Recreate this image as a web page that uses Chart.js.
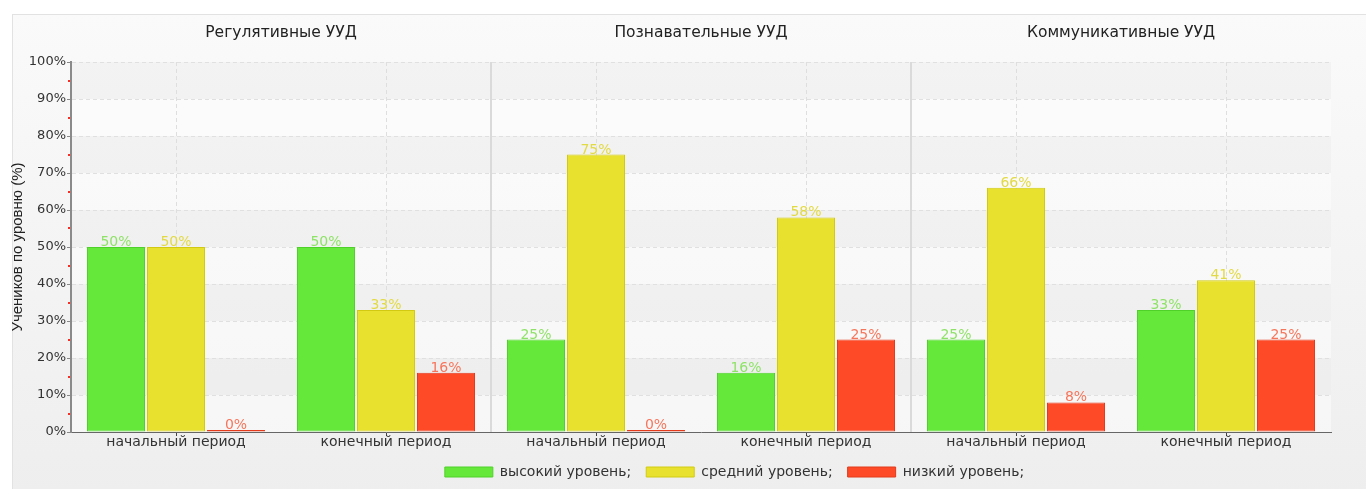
<!DOCTYPE html>
<html>
<head>
<meta charset="utf-8">
<script src="https://cdn.jsdelivr.net/npm/chart.js@4/dist/chart.umd.min.js"></script>
<style>
  html, body { margin: 0; padding: 0; background: #ffffff; width: 1366px; height: 489px; overflow: hidden; }
  #frame {
    position: absolute; left: 12px; top: 14px; width: 1360px; height: 480px;
    border-top: 1px solid #e2e2e2; border-left: 1px solid #e2e2e2;
    background: linear-gradient(#fafafa, #eeeeee);
  }
  #wrap { position: absolute; left: 0; top: 0; width: 1366px; height: 489px; }
</style>
</head>
<body>
<div id="frame"></div>
<div id="wrap"><canvas id="chart" width="1366" height="489"></canvas></div>
<script>
// Panels (top axis) and periods (bottom axis)
const groups = ['Регулятивные УУД', 'Познавательные УУД', 'Коммуникативные УУД'];
const categories = [
  'начальный период', 'конечный период',
  'начальный период', 'конечный период',
  'начальный период', 'конечный период'
];

// Share of pupils per level, %
const highLevel = [50, 50, 25, 16, 25, 33];
const midLevel  = [50, 33, 75, 58, 66, 41];
const lowLevel  = [0, 16, 0, 25, 8, 25];

const seriesNames = ['высокий уровень;', 'средний уровень;', 'низкий уровень;'];
const yTitle = 'Учеников по уровню (%)';

const FONT = '"DejaVu Sans", sans-serif';

const fills   = ['#66e83b', '#e8e22e', '#ff4a28'];
const borders = ['#4fd12a', '#d2ca12', '#e23a1b'];
const labelColors = ['#8fe268', '#e2da45', '#f6765c'];

// Alternating horizontal bands behind the grid
const bandPlugin = {
  id: 'bands',
  beforeDraw(chart) {
    const { ctx, chartArea: a, scales: { y } } = chart;
    ctx.save();
    ctx.fillStyle = 'rgba(255,255,255,0.45)';
    ctx.fillRect(a.left, a.top, a.right - a.left, a.bottom - a.top);
    ctx.fillStyle = 'rgba(0,0,0,0.035)';
    for (let v = 10; v < 100; v += 20) {
      const top = y.getPixelForValue(v + 10), bot = y.getPixelForValue(v);
      ctx.fillRect(a.left, top, a.right - a.left, bot - top);
    }
    ctx.restore();
  }
};

// Small red minor ticks on the value axis
const minorTicks = {
  id: 'minorTicks',
  afterDraw(chart) {
    const { ctx, scales: { y } } = chart;
    ctx.save();
    ctx.fillStyle = '#ff2a22';
    for (let v = 5; v < 100; v += 10) {
      const py = Math.round(y.getPixelForValue(v));
      ctx.fillRect(y.right - 3, py - 1, 2, 2);
    }
    ctx.restore();
  }
};

// Value labels above bars
const valueLabels = {
  id: 'valueLabels',
  afterDatasetsDraw(chart) {
    const { ctx } = chart;
    ctx.save();
    ctx.font = '14px ' + FONT;
    ctx.textAlign = 'center';
    ctx.textBaseline = 'alphabetic';
    chart.data.datasets.forEach((ds, di) => {
      const meta = chart.getDatasetMeta(di);
      ctx.fillStyle = labelColors[di];
      meta.data.forEach((bar, i) => {
        const v = ds.data[i];
        const top = Math.min(bar.y, bar.base);
        ctx.fillText(v + '%', bar.x, top - 1);
      });
    });
    ctx.restore();
  }
};

// Legend sits a little right of centre
const LEGEND_SHIFT = 69;
const legendShift = {
  id: 'legendShift',
  afterLayout(chart) {
    const lg = chart.legend;
    if (!lg) return;
    lg.left += LEGEND_SHIFT;
    lg.right += LEGEND_SHIFT;
    (lg.legendHitBoxes || []).forEach(h => { h.left += LEGEND_SHIFT; });
  }
};

new Chart(document.getElementById('chart'), {
  type: 'bar',
  data: {
    labels: categories,
    datasets: [highLevel, midLevel, lowLevel].map((d, i) => ({
      label: seriesNames[i],
      data: d,
      backgroundColor: fills[i],
      borderColor: borders[i],
      borderWidth: 1,
      borderSkipped: false,
      minBarLength: 2,
      categoryPercentage: 0.857,
      barPercentage: 0.967
    }))
  },
  options: {
    responsive: false,
    animation: false,
    layout: { padding: { left: 0, right: 35, top: 0, bottom: 0 } },
    plugins: {
      legend: {
        position: 'bottom',
        labels: {
          font: { family: FONT, size: 14 },
          color: '#333333',
          boxWidth: 48,
          boxHeight: 10,
          padding: 15
        }
      },
      tooltip: { enabled: false }
    },
    scales: {
      x: {
        type: 'category',
        position: 'bottom',
        offset: true,
        grid: {
          offset: false,
          color: '#dedede',
          tickColor: '#444444',
          tickLength: 4,
          lineWidth: 1
        },
        border: { display: true, color: '#666666', width: 1, dash: [4, 3] },
        ticks: { font: { family: FONT, size: 14 }, color: '#333333', padding: -2, maxRotation: 0, autoSkip: false },
        afterFit(s) { s.height = 18; }
      },
      groups: {
        type: 'category',
        position: 'top',
        labels: groups,
        offset: true,
        grid: {
          offset: true,
          drawTicks: false,
          lineWidth: 2,
          color: (c) => (c.index === 1 || c.index === 2) ? '#dadada' : 'rgba(0,0,0,0)'
        },
        border: { display: false },
        ticks: { font: { family: FONT, size: 15.5 }, color: '#222222', padding: 20 },
        afterFit(s) { s.height = 62; }
      },
      y: {
        min: 0,
        max: 100,
        ticks: {
          stepSize: 10,
          callback: (v) => v + '%',
          font: { family: FONT, size: 13 },
          color: '#333333',
          padding: 1
        },
        grid: {
          color: '#e0e0e0',
          tickColor: '#888888',
          tickLength: 4,
          lineWidth: 1
        },
        border: { display: true, color: '#8a8a8a', width: 2, dash: [4, 3] },
        title: {
          display: true,
          text: yTitle,
          font: { family: '"Liberation Sans", sans-serif', size: 15 },
          color: '#222222',
          padding: { top: 9, bottom: 0 }
        },
        afterFit(s) { s.width = 71; }
      }
    }
  },
  plugins: [bandPlugin, minorTicks, valueLabels, legendShift]
});
</script>
</body>
</html>
